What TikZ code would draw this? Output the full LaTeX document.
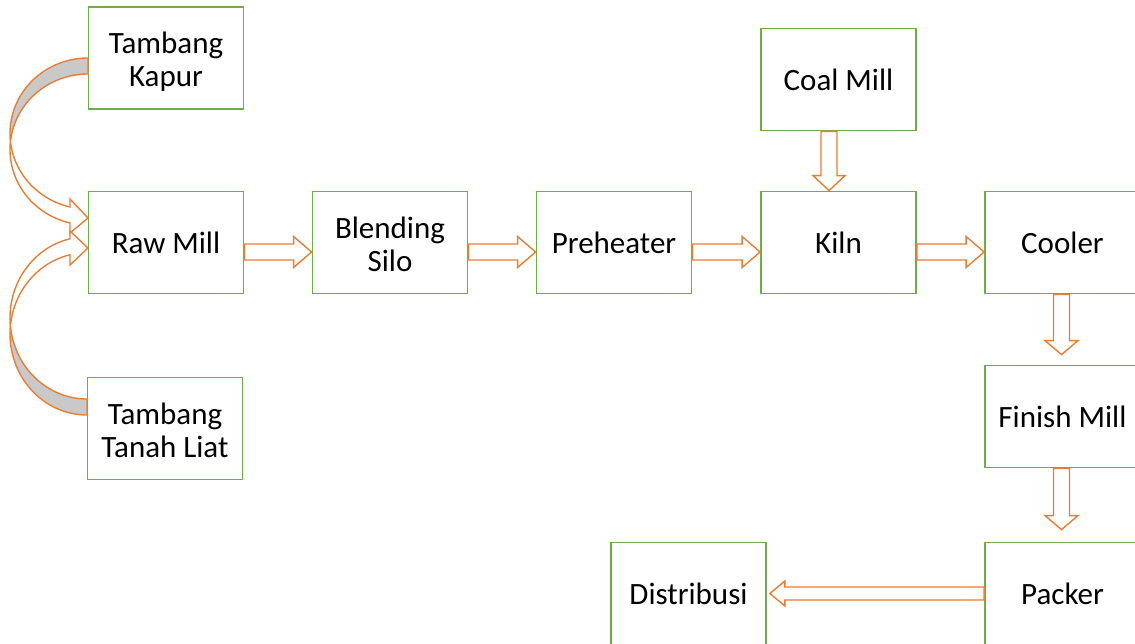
\documentclass[tikz,border=0pt]{standalone}
\usepackage{fontspec}
\setmainfont{Carlito}
\usetikzlibrary{calc}
\definecolor{grn}{HTML}{70AD47}
\definecolor{org}{HTML}{ED7D31}
\definecolor{shd}{HTML}{C9C9C9}
% horizontal block arrow: shaft half, head half, signed head length, from, to
\newcommand\harrow[5]{%
  \draw[blk] let \p1=(#4), \p2=(#5) in
  (\x1,\y1+#1pt) -- ({\x2-(#3pt)},\y1+#1pt) -- ({\x2-(#3pt)},\y1+#2pt) -- (\x2,\y1)
  -- ({\x2-(#3pt)},\y1-#2pt) -- ({\x2-(#3pt)},\y1-#1pt) -- (\x1,\y1-#1pt) -- cycle;}
% vertical block arrow
\newcommand\varrow[5]{%
  \draw[blk] let \p1=(#4), \p2=(#5) in
  (\x1+#1pt,\y1) -- (\x1+#1pt,{\y2-(#3pt)}) -- (\x1+#2pt,{\y2-(#3pt)}) -- (\x1,\y2)
  -- (\x1-#2pt,{\y2-(#3pt)}) -- (\x1-#1pt,{\y2-(#3pt)}) -- (\x1-#1pt,\y1) -- cycle;}
% two-line label
\newcommand\twol[2]{\raisebox{4pt}[0pt][0pt]{\begin{tabular}[t]{@{}c@{}}#1\\#2\end{tabular}}}
\begin{document}
\begin{tikzpicture}[x=1pt,y=-1pt,
  box/.style={draw=grn, line width=1.8pt, minimum width=155pt, minimum height=102pt,
    inner sep=0pt, align=center, font=\fontsize{31}{33}\selectfont},
  blk/.style={draw=org, fill=white, line width=1.4pt, line join=miter},
  curv/.style={draw=org, line width=1.4pt, line join=miter}]
\fill[white] (0,0) rectangle (1135,644);
\useasboundingbox (0,0) rectangle (1135,644);
\clip (0,0) rectangle (1135,644);

% boxes
\node[box] (kapur)  at (166,58)     {\twol{Tambang}{Kapur}};
\node[box] (raw)    at (166,242.5)  {Raw Mill};
\node[box] (liat)   at (165,428.5)  {\twol{Tambang}{Tanah Liat}};
\node[box] (silo)   at (390,242.5)  {\twol{Blending}{Silo}};
\node[box] (pre)    at (614,242.5)  {Preheater};
\node[box] (coal)   at (838.5,79.5) {Coal Mill};
\node[box] (kiln)   at (838.5,242.5){Kiln};
\node[box] (cooler) at (1062.5,242.5){Cooler};
\node[box] (finish) at (1062.5,416.5){Finish Mill};
\node[box] (packer) at (1062.5,593.5){Packer};
\node[box] (distr)  at (688.5,593.5){Distribusi};

% horizontal flow
\harrow{8}{15.5}{18}{$(raw.east)+(0,9.5)$}{silo.west}
\harrow{8}{15.5}{18}{$(silo.east)+(0,9.5)$}{pre.west}
\harrow{8}{15.5}{18}{$(pre.east)+(0,9.5)$}{kiln.west}
\harrow{8}{15.5}{18}{$(kiln.east)+(0,9.5)$}{cooler.west}
\harrow{6.5}{12.5}{-15}{packer.west}{$(distr.east)+(3,0)$}

% vertical flow
\varrow{8}{16}{-15}{$(coal.south)+(-9.5,0)$}{kiln.north}
\varrow{8}{16.5}{-14}{$(cooler.south)+(-1,0)$}{$(finish.north)+(0,-10)$}
\varrow{8}{16.5}{-14}{$(finish.south)+(-1,0)$}{$(packer.north)+(0,-12)$}

% curved arrow: Tambang Kapur -> Raw Mill
\draw[curv, fill=shd] plot[domain=90:186.08, samples=50] ({88+78*cos(\x)},{133.5-75.5*sin(\x)})
  -- plot[domain=173.92:90, samples=50] ({88+78*cos(\x)},{149.5-75.5*sin(\x)}) -- cycle;
\draw[curv, fill=white] plot[domain=173.92:256.66, samples=60] ({88+78*cos(\x)},{149.5-75.5*sin(\x)})
  -- (70,233) -- (88,218) -- (70,199)
  -- plot[domain=256.66:186.08, samples=60] ({88+78*cos(\x)},{133.5-75.5*sin(\x)}) -- cycle;

% curved arrow: Tambang Tanah Liat -> Raw Mill
\draw[curv, fill=shd] plot[domain=270:174.34, samples=50] ({87+77*cos(\x)},{333.9-81.1*sin(\x)})
  -- plot[domain=185.66:270, samples=50] ({87+77*cos(\x)},{317.9-81.1*sin(\x)}) -- cycle;
\draw[curv, fill=white] plot[domain=185.66:102.75, samples=60] ({87+77*cos(\x)},{317.9-81.1*sin(\x)})
  -- (70,231) -- (88,248) -- (70,265)
  -- plot[domain=102.75:174.34, samples=60] ({87+77*cos(\x)},{333.9-81.1*sin(\x)}) -- cycle;
\end{tikzpicture}
\end{document}
